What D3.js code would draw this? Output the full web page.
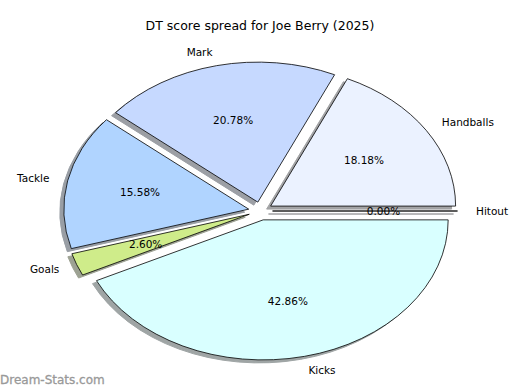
<!DOCTYPE html>
<html>
<head>
<meta charset="utf-8">
<script src="https://cdn.jsdelivr.net/npm/d3@7"></script>
<style>
  body { margin: 0; background: #fff; }
  text { font-family: "DejaVu Sans", sans-serif; }
</style>
</head>
<body>
<div id="plot"></div>
<script>
// data
var labels = ["Handballs", "Mark", "Tackle", "Goals", "Kicks", "Hitout"];
var points = [14, 16, 12, 2, 33, 0];
var colors = ["#ebf2ff", "#c6d9ff", "#b0d4ff", "#cfec8a", "#d9ffff", "#e8e8ff"];

var width = 520, height = 390;
var cx = 260.5, cy = 211,      // pie centre
    rx = 185, ry = 140,        // squashed radius (axes not equal)
    explode = 0.065;

var svg = d3.select("#plot")
  .append("svg")
    .attr("width", width)
    .attr("height", height);

// title
svg.append("text")
    .attr("x", width / 2)
    .attr("y", 30)
    .attr("text-anchor", "middle")
    .style("font-size", "12.5px")
    .text("DT score spread for Joe Berry (2025)");

// pie goes counterclockwise from 3 o'clock like matplotlib
var pie = d3.pie()
    .sort(null)
    .value(function (d) { return d; })
    .startAngle(Math.PI / 2)
    .endAngle(Math.PI / 2 - 2 * Math.PI);

var arcs = pie(points);
var total = d3.sum(points);

// unit arc, stretched later into the ellipse
var arc = d3.arc().innerRadius(0).outerRadius(1);

function mid(d) { return (d.startAngle + d.endAngle) / 2; }
function offX(d, k) { return cx + k * rx * Math.sin(mid(d)); }
function offY(d, k) { return cy - k * ry * Math.cos(mid(d)); }

// shadows under everything
svg.append("g")
  .selectAll("path")
  .data(arcs)
  .enter()
  .append("path")
    .attr("transform", function (d) {
      return "translate(" + (offX(d, explode) - 4) + "," + (offY(d, explode) + 3) + ") scale(" + rx + "," + ry + ")";
    })
    .attr("d", arc)
    .attr("vector-effect", "non-scaling-stroke")
    .style("fill", function (d, i) {
      var c = d3.rgb(colors[i]);
      return d3.rgb(c.r * 0.3, c.g * 0.3, c.b * 0.3);
    })
    .style("stroke", function (d, i) {
      var c = d3.rgb(colors[i]);
      return d3.rgb(c.r * 0.3, c.g * 0.3, c.b * 0.3);
    })
    .style("opacity", 0.5)
    .style("stroke-width", 1);

// wedges
svg.append("g")
  .selectAll("path")
  .data(arcs)
  .enter()
  .append("path")
    .attr("transform", function (d) {
      return "translate(" + offX(d, explode) + "," + offY(d, explode) + ") scale(" + rx + "," + ry + ")";
    })
    .attr("d", arc)
    .attr("vector-effect", "non-scaling-stroke")
    .style("fill", function (d, i) { return colors[i]; })
    .style("stroke", "#000")
    .style("stroke-width", 0.8);

// outer labels
svg.append("g")
  .selectAll("text")
  .data(arcs)
  .enter()
  .append("text")
    .attr("x", function (d) { return offX(d, explode + 1.1); })
    .attr("y", function (d) { return offY(d, explode + 1.1); })
    .attr("dy", "0.35em")
    .attr("text-anchor", function (d) { return Math.sin(mid(d)) > 0 ? "start" : "end"; })
    .style("font-size", "10.5px")
    .text(function (d, i) { return labels[i]; });

// percentages
svg.append("g")
  .selectAll("text")
  .data(arcs)
  .enter()
  .append("text")
    .attr("x", function (d) { return offX(d, explode + 0.6); })
    .attr("y", function (d) { return offY(d, explode + 0.6); })
    .attr("dy", "0.35em")
    .attr("text-anchor", "middle")
    .style("font-size", "10.5px")
    .text(function (d) { return (d.value / total * 100).toFixed(2) + "%"; });

// watermark
svg.append("text")
    .attr("x", 0)
    .attr("y", 384)
    .style("font-size", "12px")
    .style("fill", "#999")
    .style("stroke", "#999")
    .style("stroke-width", 0.3)
    .text("Dream-Stats.com");
</script>
</body>
</html>
